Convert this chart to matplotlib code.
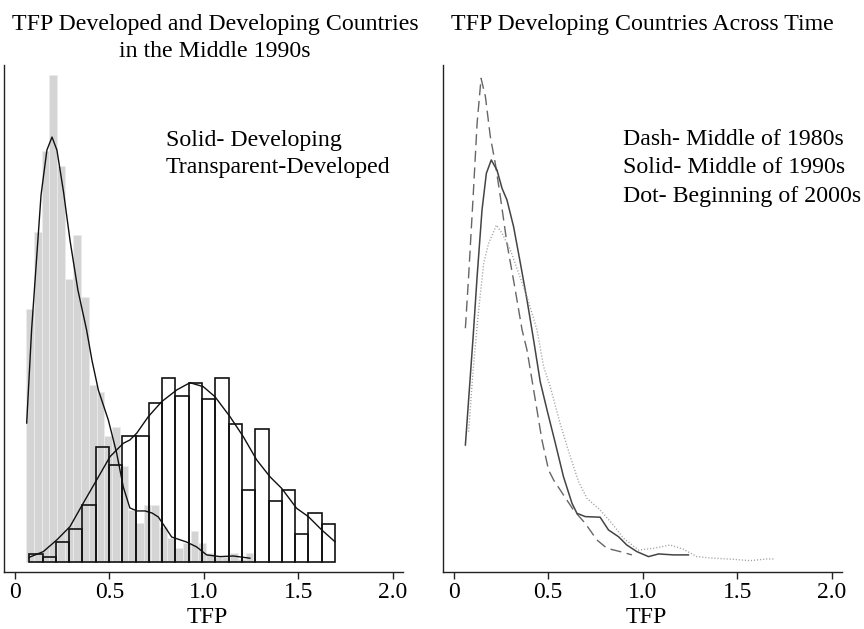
import numpy as np
import matplotlib.pyplot as plt

plt.rcParams['font.family'] = ['Liberation Serif', 'DejaVu Serif']

# left panel: TFP in the middle 1990s, histograms in density units
dev_start, dev_width = 0.058, 0.0415   # developing (grey bars)
dev_density = [1.61, 2.10, 2.62, 3.10, 2.52, 1.80, 2.08, 1.69, 1.13, 1.08,
               0.80, 0.86, 0.61, 0.33, 0.25, 0.36, 0.36, 0.22, 0.15, 0.09,
               0.12, 0.20, 0.12, 0.06, 0.03, 0.03, 0.06, 0.02, 0.06]

dvd_start, dvd_width = 0.076, 0.0703   # developed (open bars)
dvd_density = [0.05, 0.03, 0.13, 0.21, 0.36, 0.73, 0.62, 0.80, 0.80, 1.01,
               1.17, 1.06, 1.14, 1.04, 1.17, 0.88, 0.46, 0.85, 0.39, 0.46,
               0.18, 0.31, 0.24]

# kernel density curves drawn over the bars
dev_kde_x = [0.062, 0.088, 0.138, 0.169, 0.196, 0.222, 0.257, 0.291, 0.333, 0.379,
             0.407, 0.441, 0.494, 0.538, 0.573, 0.608, 0.646, 0.688, 0.725, 0.758,
             0.794, 0.829, 0.908, 0.961, 1.014, 1.085, 1.155, 1.243]
dev_kde_y = [0.885, 1.478, 2.338, 2.624, 2.707, 2.624, 2.357, 2.051, 1.732, 1.478,
             1.287, 1.096, 0.904, 0.694, 0.478, 0.344, 0.325, 0.325, 0.312, 0.287,
             0.223, 0.159, 0.127, 0.096, 0.045, 0.034, 0.038, 0.024]

dvd_kde_x = [0.076, 0.150, 0.221, 0.291, 0.361, 0.432, 0.503, 0.573, 0.608, 0.644,
             0.705, 0.776, 0.856, 0.926, 0.996, 1.058, 1.138, 1.208, 1.279, 1.349,
             1.411, 1.490, 1.552, 1.623, 1.693]
dvd_kde_y = [0.030, 0.066, 0.140, 0.225, 0.374, 0.522, 0.671, 0.756, 0.777, 0.820,
             0.925, 1.021, 1.096, 1.142, 1.117, 1.053, 0.925, 0.798, 0.650, 0.543,
             0.469, 0.342, 0.289, 0.204, 0.129]

# right panel: developing countries across time
x_1980 = [0.062, 0.079, 0.103, 0.124, 0.145, 0.168, 0.194, 0.220, 0.247, 0.282,
          0.326, 0.362, 0.388, 0.432, 0.467, 0.502, 0.529, 0.581, 0.634, 0.696,
          0.758, 0.811, 0.881, 0.943]
y_1980 = [1.489, 1.817, 2.327, 2.794, 3.081, 2.964, 2.709, 2.541, 2.327, 2.030,
          1.732, 1.478, 1.350, 1.032, 0.777, 0.586, 0.522, 0.427, 0.331, 0.246,
          0.140, 0.087, 0.066, 0.045]

x_1990 = [0.062, 0.103, 0.124, 0.150, 0.173, 0.199, 0.229, 0.256, 0.282, 0.317,
          0.353, 0.388, 0.423, 0.458, 0.494, 0.538, 0.581, 0.626, 0.652, 0.696,
          0.775, 0.819, 0.872, 0.916, 0.969, 1.031, 1.084, 1.163, 1.242]
y_1990 = [0.745, 1.435, 1.817, 2.242, 2.476, 2.561, 2.497, 2.380, 2.306, 2.136,
          1.903, 1.669, 1.414, 1.148, 0.968, 0.756, 0.543, 0.374, 0.310, 0.289,
          0.285, 0.204, 0.161, 0.108, 0.066, 0.034, 0.051, 0.045, 0.045]

x_2000 = [0.079, 0.103, 0.132, 0.159, 0.185, 0.226, 0.256, 0.300, 0.344, 0.388,
          0.441, 0.476, 0.511, 0.564, 0.617, 0.661, 0.705, 0.775, 0.837, 0.899,
          0.978, 1.057, 1.145, 1.216, 1.286, 1.374, 1.480, 1.568, 1.656, 1.700]
y_2000 = [0.830, 1.223, 1.605, 1.903, 2.030, 2.146, 2.094, 1.987, 1.839, 1.690,
          1.478, 1.244, 1.117, 0.879, 0.671, 0.511, 0.406, 0.331, 0.246, 0.151,
          0.076, 0.087, 0.108, 0.081, 0.034, 0.024, 0.017, 0.008, 0.019, 0.019]

ticks = [0, 0.5, 1.0, 1.5, 2.0]
tick_labels = ['0', '0.5', '1.0', '1.5', '2.0']

W, H = 864, 629
fig = plt.figure(figsize=(W / 100, H / 100), dpi=100)


def px_axes(x0, x1, y0, y1):
    return fig.add_axes([x0 / W, 1 - y1 / H, (x1 - x0) / W, (y1 - y0) / H])


def style(ax):
    ax.set_xlim(-0.058, 2.053)
    ax.set_ylim(-0.064, 3.166)
    for s in ['top', 'right']:
        ax.spines[s].set_visible(False)
    for s in ['left', 'bottom']:
        ax.spines[s].set_color('#222222')
        ax.spines[s].set_linewidth(1.0)
    ax.set_yticks([])
    ax.set_xticks(ticks)
    ax.set_xticklabels(tick_labels)
    ax.tick_params(axis='x', length=5, width=1, pad=2.5, labelsize=17, color='#222222')


# left panel
ax1 = px_axes(4, 403, 65, 572)
style(ax1)
dev_left = dev_start + dev_width * np.arange(len(dev_density))
ax1.bar(dev_left, dev_density, width=dev_width, align='edge',
        color='#d4d4d4', edgecolor='#ececec', linewidth=0.6)
dvd_left = dvd_start + dvd_width * np.arange(len(dvd_density))
ax1.bar(dvd_left, dvd_density, width=dvd_width, align='edge',
        fill=False, edgecolor='#111111', linewidth=1.2)
ax1.plot(dev_kde_x, dev_kde_y, color='#111111', lw=1.0)
ax1.plot(dvd_kde_x, dvd_kde_y, color='#111111', lw=1.0)

# right panel
ax2 = px_axes(442.7, 841.7, 65, 572)
style(ax2)
ax2.plot(x_1980, y_1980, color='#666666', lw=1.0, dashes=(8, 4))
ax2.plot(x_1990, y_1990, color='#444444', lw=1.1)
ax2.plot(x_2000, y_2000, color='#a0a0a0', lw=1.0, dashes=(0.8, 1.4))

fs = 17.2
fig.text(215 / W, 1 - 30 / H, 'TFP Developed and Developing Countries',
         ha='center', va='baseline', fontsize=fs)
fig.text(215 / W, 1 - 57 / H, 'in the Middle 1990s',
         ha='center', va='baseline', fontsize=fs)
fig.text(642.5 / W, 1 - 30 / H, 'TFP Developing Countries Across Time',
         ha='center', va='baseline', fontsize=fs)

fig.text(165.7 / W, 1 - 145.7 / H, 'Solid- Developing', va='baseline', fontsize=fs)
fig.text(165.7 / W, 1 - 173.3 / H, 'Transparent-Developed', va='baseline', fontsize=fs)

fig.text(622.7 / W, 1 - 145 / H, 'Dash- Middle of 1980s', va='baseline', fontsize=fs)
fig.text(622.7 / W, 1 - 173.3 / H, 'Solid- Middle of 1990s', va='baseline', fontsize=fs)
fig.text(622.7 / W, 1 - 201.7 / H, 'Dot- Beginning of 2000s', va='baseline', fontsize=fs)

fig.text(207.5 / W, 1 - 628 / H, 'TFP', ha='center', va='bottom', fontsize=fs)
fig.text(646.7 / W, 1 - 628 / H, 'TFP', ha='center', va='bottom', fontsize=fs)

fig.savefig('out.png', dpi=100)
